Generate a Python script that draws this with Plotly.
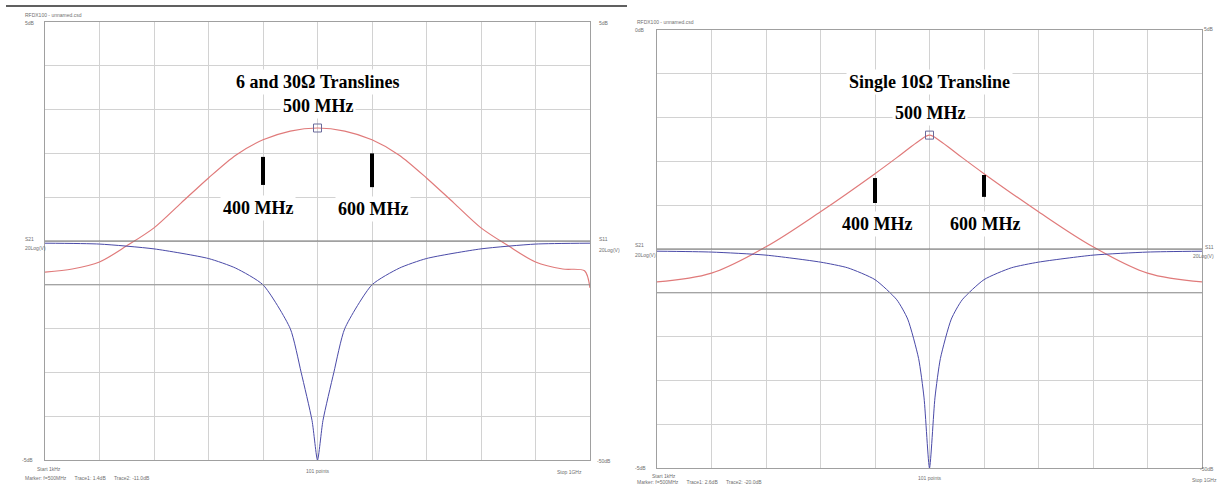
import plotly.graph_objects as go

W, H = 1217, 485

# ---- data (frequency in MHz, level in grid divisions) ----
freq_l = [0, 50, 100, 150, 200, 250, 300, 350, 400, 450, 500, 550, 600, 650, 700, 750, 800, 850, 900, 950, 990, 1000]
s21_l = [-0.71, -0.64, -0.48, -0.11, 0.30, 0.87, 1.44, 1.96, 2.31, 2.51, 2.58, 2.51, 2.31, 1.96, 1.44, 0.87, 0.30, -0.11, -0.48, -0.64, -0.68, -1.07]

freq_b = [0, 100, 200, 300, 350, 400, 450, 470, 490, 500, 510, 530, 550, 600, 650, 700, 800, 900, 1000]
s11_l = [-0.05, -0.07, -0.18, -0.40, -0.62, -1.0, -2.0, -3.0, -4.1, -5.0, -4.1, -3.0, -2.0, -1.0, -0.62, -0.40, -0.18, -0.07, -0.05]

freq_r = [0, 100, 200, 300, 400, 450, 480, 500, 520, 550, 600, 700, 800, 900, 1000]
s21_r = [-0.75, -0.55, 0.05, 0.85, 1.72, 2.18, 2.46, 2.6, 2.46, 2.18, 1.72, 0.85, 0.05, -0.55, -0.75]

freq_rb = [0, 100, 200, 300, 350, 400, 440, 460, 480, 490, 500, 510, 520, 540, 560, 600, 650, 700, 800, 900, 1000]
s11_r = [-0.05, -0.07, -0.14, -0.30, -0.43, -0.70, -1.16, -1.6, -2.5, -3.4, -5.0, -3.4, -2.5, -1.6, -1.16, -0.70, -0.43, -0.30, -0.14, -0.07, -0.05]

titles = ["6 and 30\u03a9 Translines", "Single 10\u03a9 Transline"]

RED = "#e07a7a"
BLUE = "#4a4aa8"

def px(x):
    return x / W

def py(y):
    return 1 - y / H

fig = go.Figure()

dom = [
    dict(x=(45, 590), y=(22, 460)),
    dict(x=(657, 1202), y=(30, 468)),
]

axcommon = dict(showticklabels=False, ticks="", showgrid=True, gridcolor="#d2d2d2",
                gridwidth=1, zeroline=False, showline=True, mirror=True,
                linecolor="#a0a0a0", linewidth=1, fixedrange=True)

for i, d in enumerate(dom):
    sfx = "" if i == 0 else "2"
    fig.layout["xaxis" + sfx] = dict(axcommon, domain=[px(d["x"][0]), px(d["x"][1])],
                                     range=[0, 1000], dtick=100, anchor="y" + sfx)
    fig.layout["yaxis" + sfx] = dict(axcommon, domain=[py(d["y"][1]), py(d["y"][0])],
                                     range=[-5, 5], dtick=1, anchor="x" + sfx)

# traces
fig.add_trace(go.Scatter(x=freq_l, y=s21_l, mode="lines", line=dict(color=RED, width=1.2, shape="spline", smoothing=0.8),
                         xaxis="x", yaxis="y", showlegend=False))
fig.add_trace(go.Scatter(x=freq_b, y=s11_l, mode="lines", line=dict(color=BLUE, width=1, shape="spline", smoothing=0.6),
                         xaxis="x", yaxis="y", showlegend=False))
fig.add_trace(go.Scatter(x=freq_r, y=s21_r, mode="lines", line=dict(color=RED, width=1.2, shape="spline", smoothing=1.0),
                         xaxis="x2", yaxis="y2", showlegend=False))
fig.add_trace(go.Scatter(x=freq_rb, y=s11_r, mode="lines", line=dict(color=BLUE, width=1, shape="spline", smoothing=0.6),
                         xaxis="x2", yaxis="y2", showlegend=False))
# peak markers
fig.add_trace(go.Scatter(x=[freq_l[10]], y=[s21_l[10]], mode="markers",
                         marker=dict(symbol="square-open", size=8, color="#6a6a9a", line=dict(width=1)),
                         xaxis="x", yaxis="y", showlegend=False))
fig.add_trace(go.Scatter(x=[freq_r[7]], y=[s21_r[7]], mode="markers",
                         marker=dict(symbol="square-open", size=8, color="#6a6a9a", line=dict(width=1)),
                         xaxis="x2", yaxis="y2", showlegend=False))

shapes = []
# darker reference lines
for xr, yr in (("x", "y"), ("x2", "y2")):
    for yv, c in ((0, "#707070"), (-1, "#909090")):
        shapes.append(dict(type="line", xref=xr, yref=yr, x0=0, x1=1000, y0=yv, y1=yv,
                           line=dict(color=c, width=1)))
# black tick marks
for xr, yr, xv, y0, y1 in (("x", "y", 400, 1.28, 1.92), ("x", "y", 600, 1.23, 2.0),
                           ("x2", "y2", 400, 1.05, 1.62), ("x2", "y2", 600, 1.19, 1.69)):
    shapes.append(dict(type="line", xref=xr, yref=yr, x0=xv, x1=xv, y0=y0, y1=y1,
                       line=dict(color="black", width=4)))
# top border line
shapes.append(dict(type="line", xref="paper", yref="paper", x0=px(6), x1=px(627), y0=py(6), y1=py(6),
                   line=dict(color="#606060", width=2)))
fig.layout.shapes = shapes

ann = []
BF = dict(family="Liberation Serif, DejaVu Serif, serif", size=18, color="black")
def big(text, xr, yr, x, y):
    ann.append(dict(text="<b>" + text + "</b>", xref=xr, yref=yr, x=x, y=y, showarrow=False,
                    font=BF, bgcolor="white", borderpad=2))

big(titles[0], "x", "y", 500, 3.63)
big("500 MHz", "x", "y", 500, 3.08)
big("400 MHz", "x", "y", 391, 0.75)
big("600 MHz", "x", "y", 602, 0.73)
big(titles[1], "x2", "y2", 500, 3.81)
big("500 MHz", "x2", "y2", 500, 3.10)
big("400 MHz", "x2", "y2", 404, 0.57)
big("600 MHz", "x2", "y2", 602, 0.57)

SF = dict(family="Liberation Sans, Arial, sans-serif", size=5, color="#707070")
def small(text, x, y, xa="left"):
    ann.append(dict(text=text, xref="paper", yref="paper", x=px(x), y=py(y), showarrow=False,
                    font=SF, xanchor=xa, yanchor="middle"))

# left panel small labels
small("RFDX100 - unnamed.csd", 23, 15)
small("5dB", 23, 23)
small("S21", 23, 239)
small("20Log(V)", 23, 248)
small("-5dB", 20, 460)
small("Start 1kHz", 35, 469)
small("Marker: f=500MHz      Trace1: 1.4dB      Trace2: -11.0dB", 23, 478)
small("101 points", 318, 471, "center")
small("Stop 1GHz", 555, 472)
small("5dB", 597, 23)
small("S11", 597, 239)
small("20Log(V)", 597, 250)
small("-50dB", 595, 461)
# right panel small labels
small("RFDX100 - unnamed.csd", 635, 22)
small("0dB", 633, 30)
small("S21", 633, 245)
small("20Log(V)", 633, 255)
small("-5dB", 633, 468)
small("Start 1kHz", 650, 476)
small("Marker: f=500MHz      Trace1: 2.6dB      Trace2: -20.0dB", 635, 482)
small("101 points", 930, 478, "center")
small("Stop 1GHz", 1190, 480)
small("5dB", 1216, 29, "right")
small("S11", 1216, 247, "right")
small("20Log(V)", 1216, 256, "right")
small("-50dB", 1216, 469, "right")

fig.layout.annotations = ann

fig.update_layout(width=W, height=H, margin=dict(l=0, r=0, t=0, b=0),
                  paper_bgcolor="white", plot_bgcolor="white", showlegend=False)

fig.write_html("out.html", config={"displayModeBar": False},
               post_script="document.body.style.margin='0';document.body.style.padding='0';")
